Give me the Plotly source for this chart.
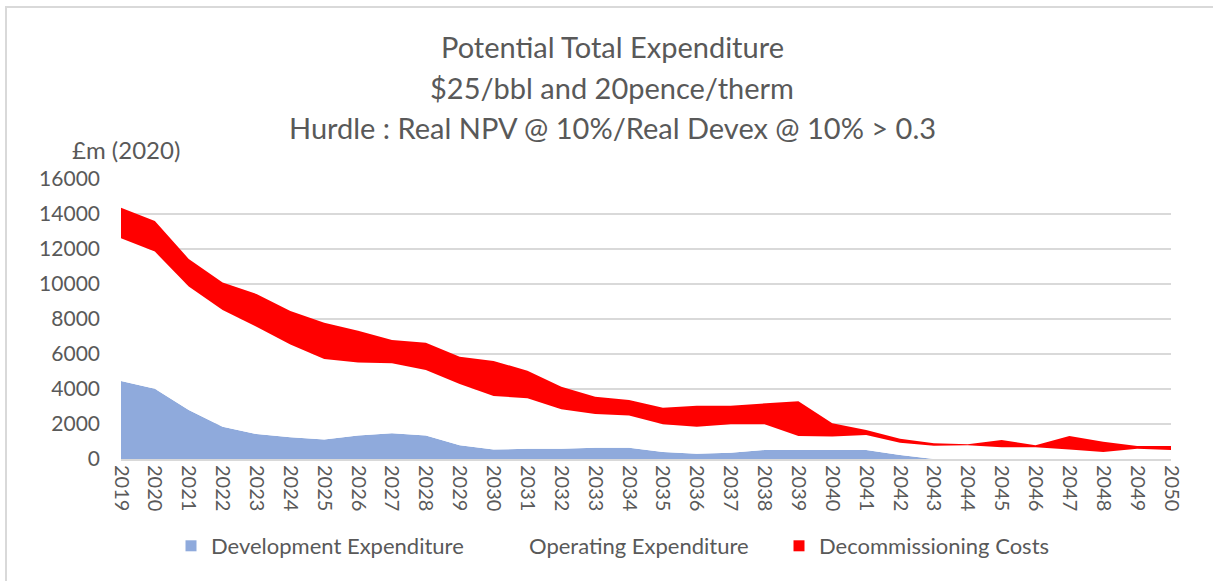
import plotly.graph_objects as go

years = list(range(2019, 2051))

development = [4460, 4020, 2800, 1850, 1430, 1240, 1120, 1350, 1470, 1350, 780, 540,
               590, 590, 650, 650, 400, 300, 360, 510, 510, 510, 510, 230, 0, 0,
               0, 0, 0, 0, 0, 0]
operating = [8150, 7830, 7050, 6660, 6130, 5310, 4590, 4170, 4000, 3740, 3510, 3060,
             2880, 2250, 1920, 1840, 1580, 1550, 1620, 1470, 800, 770, 860, 700, 760, 780,
             670, 670, 550, 400, 590, 510]
decommissioning = [1750, 1750, 1580, 1570, 1870, 1910, 2080, 1810, 1330, 1560, 1560, 2000,
                   1580, 1290, 990, 880, 950, 1200, 1070, 1200, 1990, 760, 290, 230, 140, 60,
                   420, 110, 760, 590, 150, 230]

y_ticks = [0, 2000, 4000, 6000, 8000, 10000, 12000, 14000, 16000]
title_lines = [
    "Potential Total Expenditure",
    "$25/bbl and 20pence/therm",
    "Hurdle : Real NPV @ 10%/Real Devex @ 10% > 0.3",
]

FONT = "Lato, Calibri, sans-serif"
GREY = "#595959"

# plot area in pixels, used to place paper-referenced items
PX_L, PX_R, PX_T, PX_B = 121, 1171, 179, 459


def px_x(px):
    return (px - PX_L) / (PX_R - PX_L)


def px_y(py):
    return (PX_B - py) / (PX_B - PX_T)


fig = go.Figure()
series = [
    ("Development Expenditure", development, "#8FAADC", "legend", 171),
    ("Operating Expenditure", operating, "#FFFFFF", "legend2", 489),
    ("Decommissioning Costs", decommissioning, "#FF0000", "legend3", 779),
]
for name, vals, col, _, _ in series:
    fig.add_trace(go.Scatter(
        x=years, y=vals, name=name, mode="lines",
        stackgroup="one", fillcolor=col,
        line=dict(width=0, color=col),
        legendgroup=name, showlegend=False,
    ))

# square legend keys, each in its own legend box
legend_boxes = {}
for name, vals, col, leg, lx in series:
    fig.add_trace(go.Scatter(
        x=[None], y=[None], name=name, mode="markers",
        marker=dict(symbol="square", size=11, color=col),
        legendgroup=name, showlegend=True, legend=leg,
    ))
    legend_boxes[leg] = dict(
        orientation="h", x=px_x(lx), xanchor="left",
        y=px_y(546), yanchor="middle",
        font=dict(family=FONT, size=22, color=GREY),
        itemwidth=30, bgcolor="rgba(0,0,0,0)",
    )

# main title, one annotation per line
for i, txt in enumerate(title_lines):
    fig.add_annotation(
        text=txt, xref="paper", yref="paper",
        x=px_x(612), y=px_y(47 + 40 * i),
        xanchor="center", yanchor="middle", showarrow=False,
        font=dict(family=FONT, size=29, color=GREY),
    )

# unit label above the value axis
fig.add_annotation(
    text="£m (2020)", xref="paper", yref="paper",
    x=px_x(126), y=px_y(150),
    xanchor="center", yanchor="middle", showarrow=False,
    font=dict(family=FONT, size=24, color=GREY),
)

# chart frame
fig.add_shape(type="rect", xref="paper", yref="paper",
              x0=px_x(6), x1=px_x(1230), y0=px_y(600), y1=px_y(7),
              line=dict(color="#D9D9D9", width=2), layer="below")

fig.update_layout(
    width=1213, height=581,
    margin=dict(l=PX_L, r=1213 - PX_R, t=PX_T, b=581 - PX_B),
    paper_bgcolor="white", plot_bgcolor="white",
    font=dict(family=FONT, color=GREY),
    showlegend=True,
    **legend_boxes,
    xaxis=dict(
        range=[2019, 2050], tickmode="array", tickvals=years,
        ticktext=[str(y) for y in years], tickangle=90,
        showgrid=False, zeroline=False,
        showline=True, linecolor="#D9D9D9", linewidth=2,
        tickfont=dict(family=FONT, size=20, color=GREY),
        layer="above traces",
    ),
    yaxis=dict(
        range=[0, 16000], tickmode="array", tickvals=y_ticks,
        ticktext=[str(v) for v in y_ticks],
        showgrid=True, gridcolor="#D9D9D9", gridwidth=1.5,
        zeroline=False, showline=False,
        tickfont=dict(family=FONT, size=21, color=GREY),
        ticklabelstandoff=20,
    ),
)

fig.write_html("out.html")
